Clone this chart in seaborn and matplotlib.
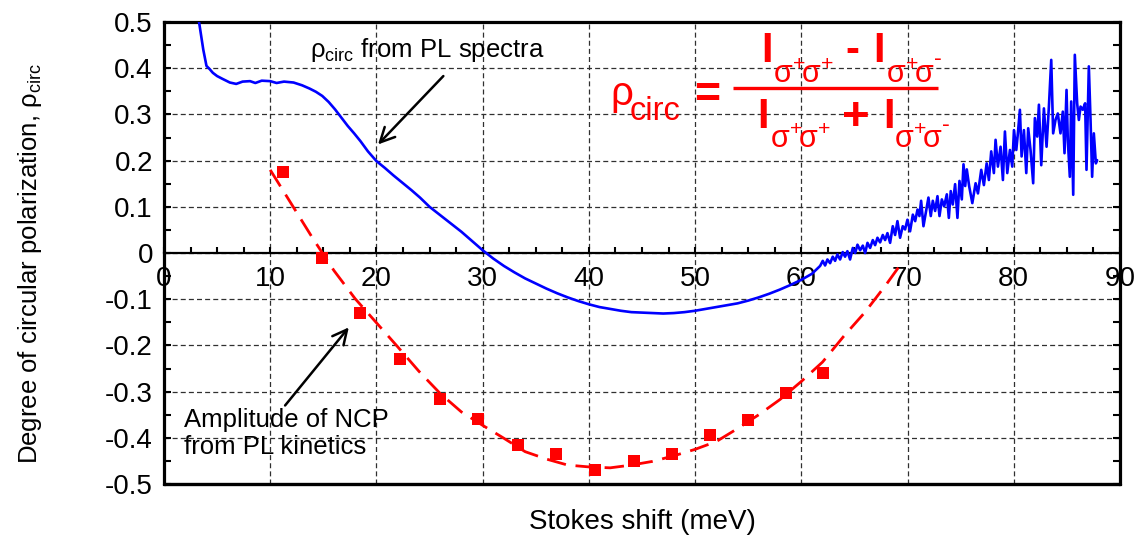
import matplotlib
matplotlib.use("Agg")
import matplotlib.pyplot as plt
import seaborn as sns
import pandas as pd
from matplotlib.lines import Line2D
from matplotlib.ticker import MultipleLocator, FixedLocator, FuncFormatter

# ---------------- data ----------------
# rho_circ from PL spectra (blue), smooth part
spec_x_a = [3.3, 3.5, 3.7, 4.0, 4.3, 4.6, 5.0, 5.5, 6.2, 6.8,
            7.4, 8.1, 8.6, 9.2, 10.0, 10.6, 11.3, 12.2, 13.0, 13.7,
            14.3, 14.9, 15.5, 16.1, 16.7, 17.3, 17.9, 18.5, 19.2, 20.0,
            20.8, 21.6, 22.5, 23.3, 24.1, 25.0, 26.0, 27.0, 28.0, 29.0,
            30.0, 31.0, 32.0, 33.0, 34.0, 35.0, 36.0, 37.0, 38.0, 39.0,
            40.0, 41.0, 42.0, 43.0, 44.0, 45.0, 46.0, 47.0, 48.0, 49.0,
            50.0, 51.0, 52.0, 53.0, 54.0, 55.0, 56.0, 57.0, 58.0, 59.0,
            60.0, 61.0]
spec_y_a = [0.50, 0.47, 0.44, 0.405, 0.398, 0.39, 0.383, 0.377, 0.369, 0.366,
            0.371, 0.372, 0.368, 0.373, 0.372, 0.368, 0.371, 0.369, 0.363, 0.356,
            0.349, 0.34, 0.327, 0.311, 0.293, 0.275, 0.259, 0.242, 0.22, 0.199,
            0.184, 0.168, 0.151, 0.136, 0.12, 0.10, 0.082, 0.064, 0.046, 0.026,
            0.006, -0.012, -0.028, -0.042, -0.055, -0.066, -0.077, -0.087, -0.096, -0.104,
            -0.111, -0.117, -0.121, -0.125, -0.128, -0.129, -0.13, -0.131, -0.13, -0.128,
            -0.125, -0.121, -0.117, -0.113, -0.109, -0.103, -0.096, -0.088, -0.079, -0.069,
            -0.058, -0.045]
# noisy part 62-76
spec_x_b = [61.77, 62.02, 62.24, 62.46, 62.71, 62.96, 63.18, 63.40, 63.65, 63.90,
            64.12, 64.34, 64.59, 64.85, 65.07, 65.29, 65.54, 65.79, 66.01, 66.23,
            66.48, 66.73, 66.95, 67.17, 67.42, 67.67, 67.89, 68.11, 68.36, 68.61,
            68.83, 69.05, 69.30, 69.55, 69.77, 69.99, 70.24, 70.50, 70.72, 70.94,
            71.12, 71.28, 71.50, 71.75, 71.97, 72.19, 72.38, 72.60, 72.82, 73.01,
            73.23, 73.45, 73.70, 73.89, 74.07, 74.26, 74.48, 74.70, 74.89, 75.11,
            75.27, 75.43, 75.58, 75.80]
spec_y_b = [-0.028, -0.017, -0.027, -0.014, -0.022, -0.008, -0.017, -0.003, -0.014, 0.002,
            -0.008, 0.004, -0.014, 0.011, 0.000, 0.018, 0.006, 0.016, 0.000, 0.022,
            0.011, 0.028, 0.017, 0.033, 0.023, 0.039, 0.028, 0.043, 0.022, 0.058,
            0.039, 0.069, 0.033, 0.058, 0.051, 0.072, 0.047, 0.083, 0.069, 0.094,
            0.080, 0.113, 0.058, 0.091, 0.120, 0.080, 0.113, 0.091, 0.123, 0.080,
            0.116, 0.101, 0.127, 0.076, 0.134, 0.105, 0.149, 0.076, 0.156, 0.116,
            0.192, 0.145, 0.181, 0.145]
# noisy part 76-88
spec_x_c = [76.10, 76.41, 76.63, 76.94, 77.19, 77.45, 77.66, 77.88, 78.13, 78.29,
            78.51, 78.76, 78.98, 79.17, 79.39, 79.64, 79.86, 80.02, 80.24, 80.39,
            80.58, 80.74, 80.96, 81.18, 81.36, 81.58, 81.83, 81.99, 82.21, 82.37,
            82.59, 82.84, 83.09, 83.31, 83.53, 83.71, 83.93, 84.15, 84.40, 84.62,
            84.78, 84.97, 85.09, 85.28, 85.41, 85.60, 85.75, 85.97, 86.13, 86.29,
            86.50, 86.72, 86.85, 87.07, 87.23, 87.38, 87.54, 87.73, 87.85]
spec_y_c = [0.108, 0.151, 0.129, 0.18, 0.147, 0.194, 0.158, 0.22, 0.173, 0.245,
            0.187, 0.23, 0.158, 0.263, 0.173, 0.223, 0.187, 0.266, 0.223, 0.259,
            0.31, 0.209, 0.266, 0.173, 0.27, 0.223, 0.151, 0.292, 0.252, 0.321,
            0.19, 0.313, 0.23, 0.317, 0.418, 0.259, 0.288, 0.302, 0.259, 0.306,
            0.216, 0.353, 0.245, 0.165, 0.328, 0.126, 0.429, 0.324, 0.288, 0.317,
            0.31, 0.324, 0.18, 0.404, 0.288, 0.165, 0.259, 0.194, 0.201]

# amplitude of NCP from PL kinetics (red squares)
ncp_x = [11.2, 14.85, 18.5, 22.25, 25.96, 29.6, 33.3, 36.95, 40.55, 44.26, 47.87, 51.45, 55.02, 58.57, 62.02]
ncp_y = [0.175, -0.011, -0.13, -0.23, -0.315, -0.36, -0.416, -0.434, -0.47, -0.45, -0.434, -0.395, -0.361, -0.302, -0.259]

# dashed guide line through NCP points
fit_x = [10, 12, 14, 16, 18, 20, 22, 24, 26, 28, 30, 32, 34, 36, 38, 40, 42, 44,
         46, 48, 50, 52, 54, 56, 58, 60, 62, 64, 66, 68, 69.5]
fit_y = [0.18, 0.106, 0.032, -0.038, -0.099, -0.151, -0.203, -0.256, -0.304, -0.344,
         -0.373, -0.401, -0.43, -0.446, -0.459, -0.463, -0.465, -0.459, -0.451, -0.439,
         -0.425, -0.408, -0.38, -0.35, -0.317, -0.278, -0.236, -0.18, -0.128, -0.068, -0.02]

x_ticks = [0, 10, 20, 30, 40, 50, 60, 70, 80, 90]
y_ticks = [-0.5, -0.4, -0.3, -0.2, -0.1, 0, 0.1, 0.2, 0.3, 0.4, 0.5]

# ---------------- style ----------------
sns.set_theme(style="white")
plt.rcParams["font.family"] = ["Liberation Sans", "DejaVu Sans"]
plt.rcParams["mathtext.fontset"] = "custom"
plt.rcParams["mathtext.rm"] = "Liberation Sans"
plt.rcParams["mathtext.it"] = "Liberation Sans:italic"
plt.rcParams["mathtext.bf"] = "Liberation Sans:bold"
plt.rcParams["axes.unicode_minus"] = False

RED = "#ff0000"
W, H = 1142, 542

fig = plt.figure(figsize=(W / 100, H / 100), dpi=100)
ax = fig.add_axes([0.1436, 0.1070, 0.8371, 0.8524])

spec = pd.DataFrame({"x": spec_x_a + spec_x_b + spec_x_c,
                     "y": spec_y_a + spec_y_b + spec_y_c})
fit = pd.DataFrame({"x": fit_x, "y": fit_y})
ncp = pd.DataFrame({"x": ncp_x, "y": ncp_y})

sns.lineplot(data=spec, x="x", y="y", color="#0000ff", lw=1.9,
             estimator=None, sort=False, ax=ax, zorder=4)
sns.lineplot(data=fit, x="x", y="y", color=RED, lw=2.0,
             estimator=None, sort=False, ax=ax, zorder=4,
             linestyle=(0, (7, 3.5)))
sns.scatterplot(data=ncp, x="x", y="y", color=RED, marker="s",
                s=78, linewidth=0, ax=ax, zorder=5)

ax.set_xlim(0, 90)
ax.set_ylim(-0.5, 0.5)

# axes frame
for side in ["left", "right", "top"]:
    ax.spines[side].set_linewidth(2.3)
    ax.spines[side].set_color("black")
ax.spines["bottom"].set_position(("data", 0))
ax.spines["bottom"].set_linewidth(1.6)
ax.spines["bottom"].set_color("black")
ax.axhline(-0.5, color="black", lw=2.4, clip_on=False, zorder=6)

ax.xaxis.set_major_locator(FixedLocator(x_ticks))
ax.xaxis.set_minor_locator(MultipleLocator(2.5))
ax.yaxis.set_major_locator(FixedLocator(y_ticks))
ax.yaxis.set_minor_locator(MultipleLocator(0.05))
ax.yaxis.set_major_formatter(FuncFormatter(lambda v, p: f"{v:g}" if abs(v) > 1e-9 else "0"))

ax.tick_params(axis="x", which="both", direction="in", length=4, width=1.5,
               bottom=True, top=False, labelsize=20, pad=9, colors="black")
ax.tick_params(axis="y", which="both", direction="in", length=5, width=1.5,
               left=True, right=True, labelsize=20, pad=8, colors="black")

ax.grid(True, which="major", color="#303030", lw=0.9, ls=(0, (4, 2.5)))
ax.set_axisbelow(True)

ax.set_xlabel("Stokes shift (meV)", fontsize=20, color="black")
ax.xaxis.set_label_coords(0.5, -0.055)
ax.set_ylabel(r"Degree of circular polarization, $\mathrm{\rho_{circ}}$",
              fontsize=18.5, color="black")
ax.yaxis.set_label_coords(-0.126, 0.478)

# annotations
ax.text(13.75, 0.424, r"$\mathrm{\rho_{circ}}$ from PL spectra",
        fontsize=18.5, color="black", va="baseline", ha="left")
ax.annotate("", xy=(20.15, 0.235), xytext=(26.3, 0.383),
            arrowprops=dict(arrowstyle="->", color="black", lw=1.8,
                            mutation_scale=26, shrinkA=0, shrinkB=0))
ax.text(1.9, -0.336, "Amplitude of NCP\nfrom PL kinetics",
        fontsize=18.5, color="black", va="top", ha="left", linespacing=1.12)
ax.annotate("", xy=(17.4, -0.161), xytext=(11.4, -0.33),
            arrowprops=dict(arrowstyle="->", color="black", lw=1.8,
                            mutation_scale=26, shrinkA=0, shrinkB=0))


# formula rho_circ = (I - I)/(I + I), laid out piece by piece (pixel positions)
def put(s, px, py, size, weight="normal", ha="center"):
    fig.text(px / W, 1 - py / H, s, fontsize=size, fontweight=weight,
             color=RED, ha=ha, va="baseline")


SPP = r"$\mathrm{\sigma^{+}\!\sigma^{+}}$"
SPM = r"$\mathrm{\sigma^{+}\!\sigma}$"
SIG, SUP, BIG = 22, 17, 30

put("ρ", 621.7, 105, 29)
put("circ", 630, 120, 23.5, ha="left")
put("=", 707.5, 106.5, 32, weight="bold")
fig.add_artist(Line2D([733 / W, 938 / W], [1 - 88.3 / H, 1 - 88.3 / H],
                      color=RED, lw=2.4, solid_capstyle="butt"))
# numerator
put("I", 767.5, 61.7, BIG, "bold")
put(SPP, 773, 83, SIG, ha="left")
put("-", 852.5, 61.7, BIG, "bold")
put("I", 879, 61.7, BIG, "bold")
put(SPM, 886, 83, SIG, ha="left")
put("-", 934, 64.5, SUP, ha="left")
# denominator
put("I", 763.5, 128, BIG, "bold")
put(SPP, 770, 148, SIG, ha="left")
put("+", 855.5, 130, 34, "bold")
put("I", 889, 128, BIG, "bold")
put(SPM, 894, 148, SIG, ha="left")
put("-", 942, 131.5, SUP, ha="left")

fig.savefig("out.png", dpi=100)
